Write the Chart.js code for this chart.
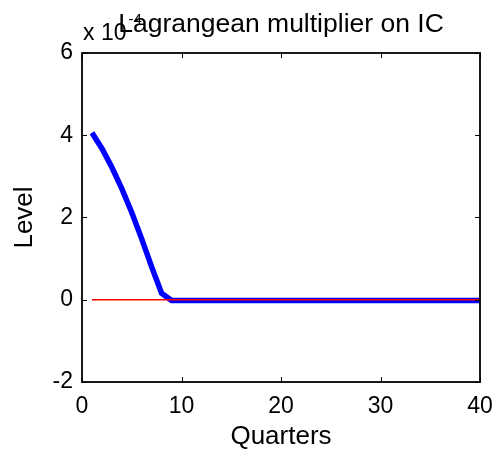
<!DOCTYPE html>
<html>
<head>
  <meta charset="UTF-8">
  <title>Lagrangean multiplier on IC</title>
  <script src="https://cdn.jsdelivr.net/npm/chart.js"></script>
  <style>
    html, body { margin: 0; padding: 0; background: #fff; }
    #wrap { width: 497px; height: 453px; }
  </style>
</head>
<body>
  <div id="wrap"><canvas id="icChart" width="497" height="453"></canvas></div>

  <script>
    // data (values are in levels, axis shows x 10^-4)
    const quarters = [1, 2, 3, 4, 5, 6, 7, 8, 9, 10,
      11, 12, 13, 14, 15, 16, 17, 18, 19, 20,
      21, 22, 23, 24, 25, 26, 27, 28, 29, 30,
      31, 32, 33, 34, 35, 36, 37, 38, 39, 40];
    const multiplier = [4.06e-4, 3.68e-4, 3.22e-4, 2.70e-4, 2.12e-4, 1.48e-4, 0.80e-4, 0.16e-4, -0.02e-4, -0.02e-4,
      -0.02e-4, -0.02e-4, -0.02e-4, -0.02e-4, -0.02e-4, -0.02e-4, -0.02e-4, -0.02e-4, -0.02e-4, -0.02e-4,
      -0.02e-4, -0.02e-4, -0.02e-4, -0.02e-4, -0.02e-4, -0.02e-4, -0.02e-4, -0.02e-4, -0.02e-4, -0.02e-4,
      -0.02e-4, -0.02e-4, -0.02e-4, -0.02e-4, -0.02e-4, -0.02e-4, -0.02e-4, -0.02e-4, -0.02e-4, -0.02e-4];
    const zeroLine = [0, 0, 0, 0, 0, 0, 0, 0, 0, 0,
      0, 0, 0, 0, 0, 0, 0, 0, 0, 0,
      0, 0, 0, 0, 0, 0, 0, 0, 0, 0,
      0, 0, 0, 0, 0, 0, 0, 0, 0, 0];
    const xTicks = [0, 10, 20, 30, 40];
    const yTicks = [-2e-4, 0, 2e-4, 4e-4, 6e-4];
    const titleText = 'Lagrangean multiplier on IC';
    const expBase = 'x 10';
    const expPower = '-4';

    const FONT = 'Liberation Sans, Arial, Helvetica, sans-serif';

    // matlab style frame: box plus inward ticks on all four sides
    const matlabFrame = {
      id: 'matlabFrame',
      afterDraw(chart) {
        const { ctx, chartArea: a, scales } = chart;
        ctx.save();
        ctx.strokeStyle = '#000';
        ctx.lineWidth = 1;
        const len = 5;
        ctx.beginPath();
        xTicks.forEach(v => {
          const px = Math.round(scales.x.getPixelForValue(v)) + 0.5;
          ctx.moveTo(px, a.bottom); ctx.lineTo(px, a.bottom - len);
          ctx.moveTo(px, a.top); ctx.lineTo(px, a.top + len);
        });
        yTicks.forEach(v => {
          const py = Math.round(scales.y.getPixelForValue(v)) + 0.5;
          ctx.moveTo(a.left, py); ctx.lineTo(a.left + len, py);
          ctx.moveTo(a.right, py); ctx.lineTo(a.right - len, py);
        });
        ctx.stroke();
        ctx.lineWidth = 1.8;
        ctx.strokeRect(a.left, a.top, a.right - a.left, a.bottom - a.top);

        // exponent label, then title (title drawn over it like the original)
        ctx.fillStyle = '#000';
        ctx.textBaseline = 'alphabetic';
        ctx.textAlign = 'left';
        ctx.font = '23px ' + FONT;
        ctx.fillText(expBase, a.left + 1, 40);
        const w = ctx.measureText(expBase).width;
        ctx.font = '15px ' + FONT;
        ctx.fillText(expPower, a.left + 1 + w + 2, 24);

        ctx.textAlign = 'center';
        ctx.font = '26.5px ' + FONT;
        ctx.fillText(titleText, (a.left + a.right) / 2, 32);
        ctx.restore();
      }
    };

    const ctx = document.getElementById('icChart').getContext('2d');

    new Chart(ctx, {
      type: 'line',
      data: {
        datasets: [
          {
            label: 'multiplier',
            data: quarters.map((q, i) => ({ x: q, y: multiplier[i] })),
            borderColor: '#0000ff',
            borderWidth: 5.5,
            pointRadius: 0,
            fill: false,
            order: 2
          },
          {
            label: 'zero',
            data: quarters.map((q, i) => ({ x: q, y: zeroLine[i] })),
            borderColor: '#ff0000',
            borderWidth: 1.5,
            pointRadius: 0,
            fill: false,
            order: 0
          }
        ]
      },
      options: {
        responsive: false,
        animation: false,
        layout: { padding: { top: 53, right: 17, left: 0, bottom: 0 } },
        plugins: {
          legend: { display: false },
          tooltip: { enabled: false }
        },
        scales: {
          x: {
            type: 'linear',
            min: 0,
            max: 40,
            afterBuildTicks(scale) { scale.ticks = xTicks.map(v => ({ value: v })); },
            afterFit(scale) {
              scale.height = 71;
              scale.paddingLeft = 0;
              scale.paddingRight = 0;
            },
            grid: { display: false, drawTicks: false },
            border: { display: false },
            ticks: {
              color: '#000',
              padding: 11,
              font: { family: FONT, size: 23 },
              maxRotation: 0
            },
            title: {
              display: true,
              text: 'Quarters',
              color: '#000',
              font: { family: FONT, size: 26 },
              padding: { top: 0, bottom: 1 }
            }
          },
          y: {
            min: -2e-4,
            max: 6e-4,
            afterBuildTicks(scale) { scale.ticks = yTicks.map(v => ({ value: v })); },
            afterFit(scale) {
              scale.width = 82;
              scale.paddingTop = 0;
              scale.paddingBottom = 0;
            },
            grid: { display: false, drawTicks: false },
            border: { display: false },
            ticks: {
              color: '#000',
              padding: 9,
              font: { family: FONT, size: 23 },
              callback: v => String(Math.round(v / 1e-4))
            },
            title: {
              display: true,
              text: 'Level',
              color: '#000',
              font: { family: FONT, size: 26 },
              padding: { top: 9, bottom: 0 }
            }
          }
        }
      },
      plugins: [matlabFrame]
    });
  </script>
</body>
</html>
